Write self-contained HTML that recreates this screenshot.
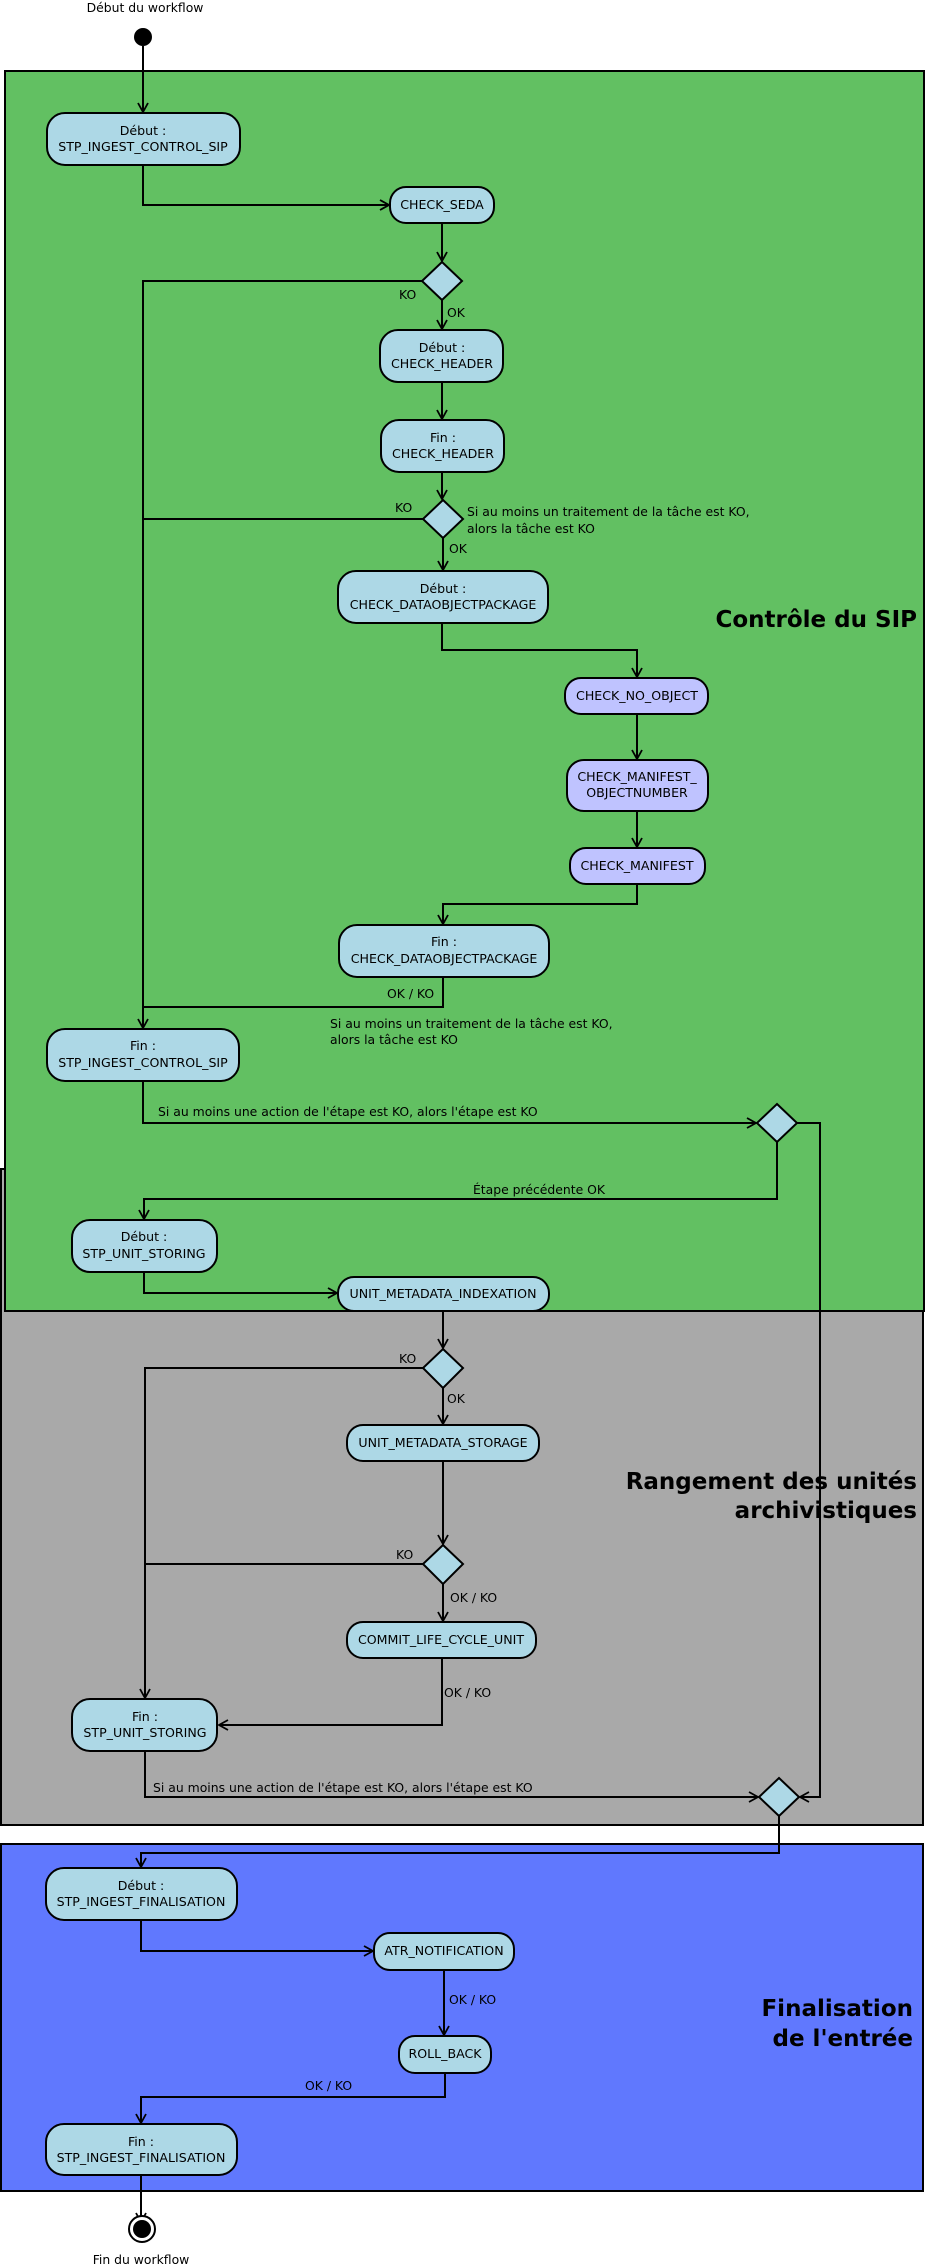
<!DOCTYPE html>
<html><head><meta charset="utf-8"><style>
html,body{margin:0;padding:0;background:#fff}
svg{display:block}
text{font-family:"DejaVu Sans","Liberation Sans",sans-serif;fill:#000}
.n{font-size:12.6px;text-anchor:middle}
.l{font-size:12.4px}
.t{font-size:23px;font-weight:bold;text-anchor:end}
.b{fill:#add8e6;stroke:#000;stroke-width:2}
.p{fill:#bfc3ff;stroke:#000;stroke-width:2}
.e{fill:none;stroke:#000;stroke-width:2}
</style></head><body>
<svg width="926" height="2268" viewBox="0 0 926 2268" xmlns="http://www.w3.org/2000/svg">
<defs>
<marker id="a" markerWidth="12" markerHeight="12" refX="10" refY="6" orient="auto" markerUnits="userSpaceOnUse">
<path d="M1,1 L10,6 L1,11" fill="none" stroke="#000" stroke-width="1.8"/>
</marker>
</defs>
<rect x="1" y="1169" width="922" height="656" fill="#a9a9a9" stroke="#000" stroke-width="2"/>
<rect x="5" y="71" width="919" height="1240" fill="#62c062" stroke="#000" stroke-width="2"/>
<rect x="1" y="1844" width="922" height="347" fill="#6078fe" stroke="#000" stroke-width="2"/>
<text class="t" x="917" y="627">Contrôle du SIP</text>
<text class="t" x="917" y="1489">Rangement des unités</text>
<text class="t" x="917" y="1518">archivistiques</text>
<text class="t" x="913" y="2016">Finalisation</text>
<text class="t" x="913" y="2046">de l'entrée</text>

<text class="l" x="145" y="12" text-anchor="middle">Début du workflow</text>
<circle cx="143" cy="37" r="9" fill="#000"/>

<g class="e">
<path d="M143,46 V112" marker-end="url(#a)"/>
<path d="M143,165 V205 H389" marker-end="url(#a)"/>
<path d="M442,223 V261" marker-end="url(#a)"/>
<path d="M422,281 H143 V1028" marker-end="url(#a)"/>
<path d="M442,300 V329" marker-end="url(#a)"/>
<path d="M442,382 V419" marker-end="url(#a)"/>
<path d="M442,472 V499" marker-end="url(#a)"/>
<path d="M423,519 H143"/>
<path d="M443,538 V570" marker-end="url(#a)"/>
<path d="M442,623 V650 H637 V677" marker-end="url(#a)"/>
<path d="M637,714 V759" marker-end="url(#a)"/>
<path d="M637,811 V847" marker-end="url(#a)"/>
<path d="M637,884 V904 H443 V924" marker-end="url(#a)"/>
<path d="M443,977 V1007 H143"/>
<path d="M143,1081 V1123 H756" marker-end="url(#a)"/>
<path d="M797,1123 H820 V1797 H800" marker-end="url(#a)"/>
<path d="M777,1142 V1199 H144 V1219" marker-end="url(#a)"/>
<path d="M144,1272 V1293 H337" marker-end="url(#a)"/>
<path d="M443,1311 V1348" marker-end="url(#a)"/>
<path d="M423,1368 H145 V1698" marker-end="url(#a)"/>
<path d="M443,1388 V1424" marker-end="url(#a)"/>
<path d="M443,1461 V1544" marker-end="url(#a)"/>
<path d="M423,1564 H145"/>
<path d="M443,1584 V1621" marker-end="url(#a)"/>
<path d="M442,1658 V1725 H219" marker-end="url(#a)"/>
<path d="M145,1751 V1797 H758" marker-end="url(#a)"/>
<path d="M779,1816 V1853 H141 V1867" marker-end="url(#a)"/>
<path d="M141,1920 V1951 H373" marker-end="url(#a)"/>
<path d="M444,1970 V2035" marker-end="url(#a)"/>
<path d="M445,2073 V2097 H141 V2123" marker-end="url(#a)"/>
<path d="M141,2175 V2222" marker-end="url(#a)"/>
</g>

<g class="b">
<path d="M442,262 L462,281 L442,300 L422,281 Z"/>
<path d="M443,500 L463,519 L443,538 L423,519 Z"/>
<path d="M777,1104 L797,1123 L777,1142 L757,1123 Z"/>
<path d="M443,1349 L463,1368 L443,1388 L423,1368 Z"/>
<path d="M443,1545 L463,1564 L443,1584 L423,1564 Z"/>
<path d="M779,1778 L799,1797 L779,1816 L759,1797 Z"/>
</g>

<rect class="b" x="47" y="113" width="193" height="52" rx="18"/>
<text class="n" x="143" y="135">Début :</text><text class="n" x="143" y="151">STP_INGEST_CONTROL_SIP</text>
<rect class="b" x="390" y="187" width="104" height="36" rx="16"/>
<text class="n" x="442" y="209">CHECK_SEDA</text>
<rect class="b" x="380" y="330" width="123" height="52" rx="18"/>
<text class="n" x="442" y="352">Début :</text><text class="n" x="442" y="368">CHECK_HEADER</text>
<rect class="b" x="381" y="420" width="123" height="52" rx="18"/>
<text class="n" x="443" y="442">Fin :</text><text class="n" x="443" y="458">CHECK_HEADER</text>
<rect class="b" x="338" y="571" width="210" height="52" rx="18"/>
<text class="n" x="443" y="593">Début :</text><text class="n" x="443" y="609">CHECK_DATAOBJECTPACKAGE</text>
<rect class="p" x="565" y="678" width="143" height="36" rx="16"/>
<text class="n" x="637" y="700">CHECK_NO_OBJECT</text>
<rect class="p" x="567" y="760" width="141" height="51" rx="17"/>
<text class="n" x="637" y="781">CHECK_MANIFEST_</text><text class="n" x="637" y="797">OBJECTNUMBER</text>
<rect class="p" x="570" y="848" width="135" height="36" rx="16"/>
<text class="n" x="637" y="870">CHECK_MANIFEST</text>
<rect class="b" x="339" y="925" width="210" height="52" rx="18"/>
<text class="n" x="444" y="946">Fin :</text><text class="n" x="444" y="963">CHECK_DATAOBJECTPACKAGE</text>
<rect class="b" x="47" y="1029" width="192" height="52" rx="18"/>
<text class="n" x="143" y="1050">Fin :</text><text class="n" x="143" y="1067">STP_INGEST_CONTROL_SIP</text>
<rect class="b" x="72" y="1220" width="145" height="52" rx="18"/>
<text class="n" x="144" y="1241">Début :</text><text class="n" x="144" y="1258">STP_UNIT_STORING</text>
<rect class="b" x="338" y="1277" width="211" height="34" rx="16"/>
<text class="n" x="443" y="1298">UNIT_METADATA_INDEXATION</text>
<rect class="b" x="347" y="1425" width="192" height="36" rx="16"/>
<text class="n" x="443" y="1447">UNIT_METADATA_STORAGE</text>
<rect class="b" x="347" y="1622" width="189" height="36" rx="16"/>
<text class="n" x="441" y="1644">COMMIT_LIFE_CYCLE_UNIT</text>
<rect class="b" x="72" y="1699" width="145" height="52" rx="18"/>
<text class="n" x="145" y="1721">Fin :</text><text class="n" x="145" y="1737">STP_UNIT_STORING</text>
<rect class="b" x="46" y="1868" width="191" height="52" rx="18"/>
<text class="n" x="141" y="1890">Début :</text><text class="n" x="141" y="1906">STP_INGEST_FINALISATION</text>
<rect class="b" x="374" y="1933" width="140" height="37" rx="16"/>
<text class="n" x="444" y="1955">ATR_NOTIFICATION</text>
<rect class="b" x="399" y="2036" width="92" height="37" rx="16"/>
<text class="n" x="445" y="2058">ROLL_BACK</text>
<rect class="b" x="46" y="2124" width="191" height="51" rx="18"/>
<text class="n" x="141" y="2146">Fin :</text><text class="n" x="141" y="2162">STP_INGEST_FINALISATION</text>

<circle cx="142" cy="2229" r="13" fill="#fff" stroke="#000" stroke-width="2"/>
<circle cx="142" cy="2229" r="9" fill="#000"/>
<text class="l" x="141" y="2264" text-anchor="middle">Fin du workflow</text>

<text class="l" x="399" y="299">KO</text>
<text class="l" x="447" y="317">OK</text>
<text class="l" x="395" y="512">KO</text>
<text class="l" x="467" y="516">Si au moins un traitement de la tâche est KO,</text>
<text class="l" x="467" y="533">alors la tâche est KO</text>
<text class="l" x="449" y="553">OK</text>
<text class="l" x="387" y="998">OK / KO</text>
<text class="l" x="330" y="1028">Si au moins un traitement de la tâche est KO,</text>
<text class="l" x="330" y="1044">alors la tâche est KO</text>
<text class="l" x="158" y="1116">Si au moins une action de l'étape est KO, alors l'étape est KO</text>
<text class="l" x="539" y="1194" text-anchor="middle">Étape précédente OK</text>
<text class="l" x="399" y="1363">KO</text>
<text class="l" x="447" y="1403">OK</text>
<text class="l" x="396" y="1559">KO</text>
<text class="l" x="450" y="1602">OK / KO</text>
<text class="l" x="444" y="1697">OK / KO</text>
<text class="l" x="153" y="1792">Si au moins une action de l'étape est KO, alors l'étape est KO</text>
<text class="l" x="449" y="2004">OK / KO</text>
<text class="l" x="305" y="2090">OK / KO</text>
</svg>
</body></html>
